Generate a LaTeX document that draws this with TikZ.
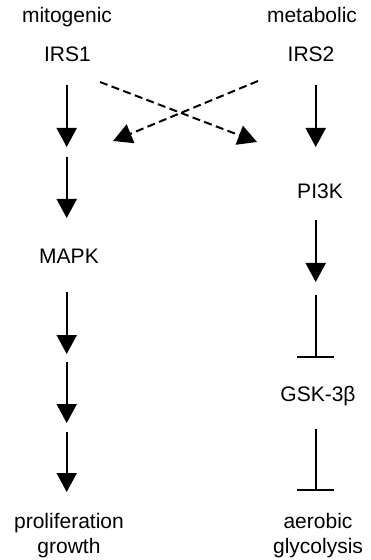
\documentclass[tikz,border=0pt]{standalone}
\usepackage{fontspec}
\setmainfont{Liberation Sans}
\usetikzlibrary{arrows.meta}
\begin{document}
\begin{tikzpicture}[x=0.5pt,y=-0.5pt,
  lbl/.style={font=\fontsize{10.5pt}{12.5pt}\selectfont, inner sep=0pt, anchor=base, align=center},
  act/.style={line width=1pt, -{Triangle[width=10pt,length=9.5pt]}},
  dact/.style={act, dash pattern=on 4pt off 2.2pt},
  inh/.style={line width=1pt, -{Bar[width=18.5pt,line width=1.1pt]}}]
\useasboundingbox (0,0) rectangle (370,560);
% labels
\node[lbl] (mito) at (67,23) {mitogenic};
\node[lbl] (meta) at (312,23) {metabolic};
\node[lbl] (irs1) at (67.5,62) {IRS1};
\node[lbl] (irs2) at (311,62) {IRS2};
\node[lbl] (pi3k) at (320,199) {PI3K};
\node[lbl] (mapk) at (69,264) {MAPK};
\node[lbl] (gsk) at (318,401) {GSK-3β};
\node[lbl] (prol) at (69,553) {proliferation\\growth};
\node[lbl] (aero) at (318,553) {aerobic\\glycolysis};
% coordinates of connector ends
\coordinate (a1s) at (66.7,85);  \coordinate (a1e) at (66.7,147);
\coordinate (a2s) at (66.7,157); \coordinate (a2e) at (66.7,218);
\coordinate (a3s) at (66.7,292); \coordinate (a3e) at (66.7,354);
\coordinate (a4s) at (66.7,362); \coordinate (a4e) at (66.7,423);
\coordinate (a5s) at (66.7,432); \coordinate (a5e) at (66.7,492);
\coordinate (r1s) at (315.7,85);  \coordinate (r1e) at (315.7,147);
\coordinate (r2s) at (315.7,220); \coordinate (r2e) at (315.7,282);
\coordinate (i1s) at (315.7,295); \coordinate (i1e) at (315.7,358);
\coordinate (i2s) at (315.7,429); \coordinate (i2e) at (315.7,491);
\coordinate (d1s) at (100,82);  \coordinate (d1e) at (257,142);
\coordinate (d2s) at (258,81);  \coordinate (d2e) at (113,141);
% connectors
\draw[act] (a1s) -- (a1e);
\draw[act] (a2s) -- (a2e);
\draw[act] (a3s) -- (a3e);
\draw[act] (a4s) -- (a4e);
\draw[act] (a5s) -- (a5e);
\draw[act] (r1s) -- (r1e);
\draw[act] (r2s) -- (r2e);
\draw[inh] (i1s) -- (i1e);
\draw[inh] (i2s) -- (i2e);
\draw[dact] (d1s) -- (d1e);
\draw[dact] (d2s) -- (d2e);
\end{tikzpicture}
\end{document}
